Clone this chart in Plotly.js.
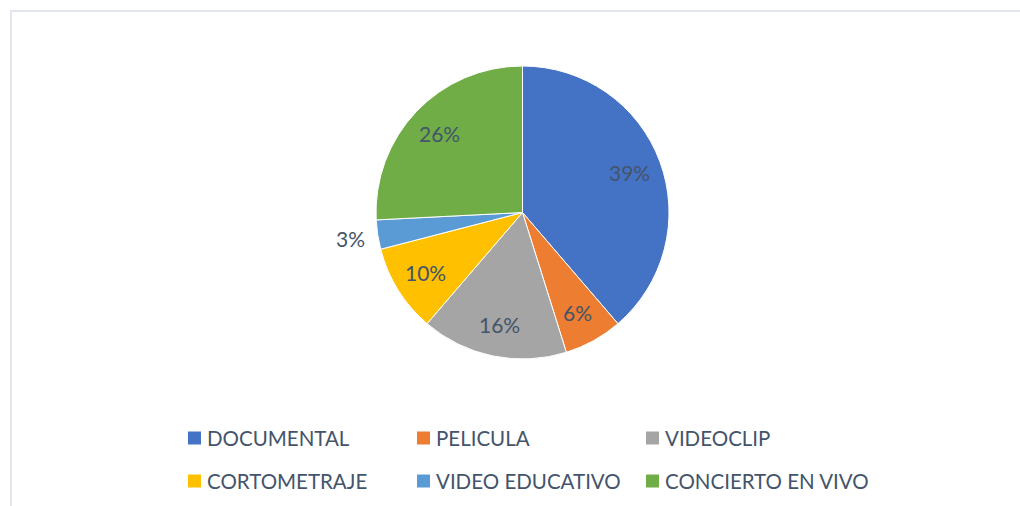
<!DOCTYPE html>
<html>
<head>
<meta charset="utf-8">
<script src="https://cdn.plot.ly/plotly-3.0.1.min.js"></script>
<style>
html,body{margin:0;padding:0;background:#fff;}
#wrap{position:relative;width:1020px;height:506px;overflow:hidden;}
#chart{position:absolute;left:0;top:0;width:1020px;height:506px;}
#frame{position:absolute;left:10px;top:10px;width:1100px;height:600px;border-left:2px solid #e3e6ec;border-top:2px solid #e3e6ec;pointer-events:none;}
</style>
</head>
<body>
<div id="wrap"><div id="chart"></div><div id="frame"></div></div>
<script>
// Data (counts; shown as percentages)
const categories = ["DOCUMENTAL", "PELICULA", "VIDEOCLIP", "CORTOMETRAJE", "VIDEO EDUCATIVO", "CONCIERTO EN VIVO"];
const counts = [12, 2, 5, 3, 1, 8];
const colors = ["#4472C4", "#ED7D31", "#A5A5A5", "#FFC000", "#5B9BD5", "#70AD47"];
const labelOutside = [false, false, false, false, true, false];

const W = 1020, H = 506;
const textColor = "#44546A";
const font = "Lato, 'Open Sans', sans-serif";

// pie geometry (pixels)
const cx = 522.5, cy = 212.5, R = 146.5;

const trace = {
  type: "pie",
  labels: categories,
  values: counts,
  sort: false,
  direction: "clockwise",
  rotation: 0,
  marker: {colors: colors, line: {color: "#ffffff", width: 1}},
  textinfo: "none",
  showlegend: false,
  hoverinfo: "label+percent",
  domain: {x: [(cx - R) / W, (cx + R) / W], y: [1 - (cy + R) / H, 1 - (cy - R) / H]}
};

const shapes = [], annotations = [];

// Percentage data labels placed at each slice's mid-angle (derived from values)
const total = counts.reduce((a, b) => a + b, 0);
let cum = 0;
counts.forEach((v, i) => {
  const frac = v / total;
  const mid = (cum + frac / 2) * 2 * Math.PI;
  cum += frac;
  const r = labelOutside[i] ? 1.19 * R : 0.78 * R;
  const px = cx + r * Math.sin(mid), py = cy - r * Math.cos(mid);
  annotations.push({xref: "paper", yref: "paper", x: px / W, y: 1 - py / H,
    xanchor: "center", yanchor: "middle", showarrow: false,
    text: Math.round(frac * 100) + "%",
    font: {family: font, size: 21, color: textColor}});
});

// Legend built from the category arrays (3 columns x 2 rows)
const colX = [188, 417, 646];
const rowY = [438, 481];
categories.forEach((c, i) => {
  const col = i % 3, row = Math.floor(i / 3);
  const x0 = colX[col], yc = rowY[row];
  shapes.push({type: "rect", xref: "paper", yref: "paper",
    x0: x0 / W, x1: (x0 + 13) / W, y0: 1 - (yc + 6.5) / H, y1: 1 - (yc - 6.5) / H,
    fillcolor: colors[i], line: {width: 0}});
  annotations.push({xref: "paper", yref: "paper", x: (x0 + 17) / W, y: 1 - yc / H,
    xanchor: "left", yanchor: "middle", showarrow: false, text: c,
    font: {family: font, size: 20.5, color: textColor}});
});

const layout = {
  width: W, height: H,
  margin: {l: 0, r: 0, t: 0, b: 0},
  paper_bgcolor: "#ffffff",
  showlegend: false,
  shapes: shapes,
  annotations: annotations
};

Plotly.newPlot("chart", [trace], layout, {displayModeBar: false, staticPlot: true});
</script>
</body>
</html>
